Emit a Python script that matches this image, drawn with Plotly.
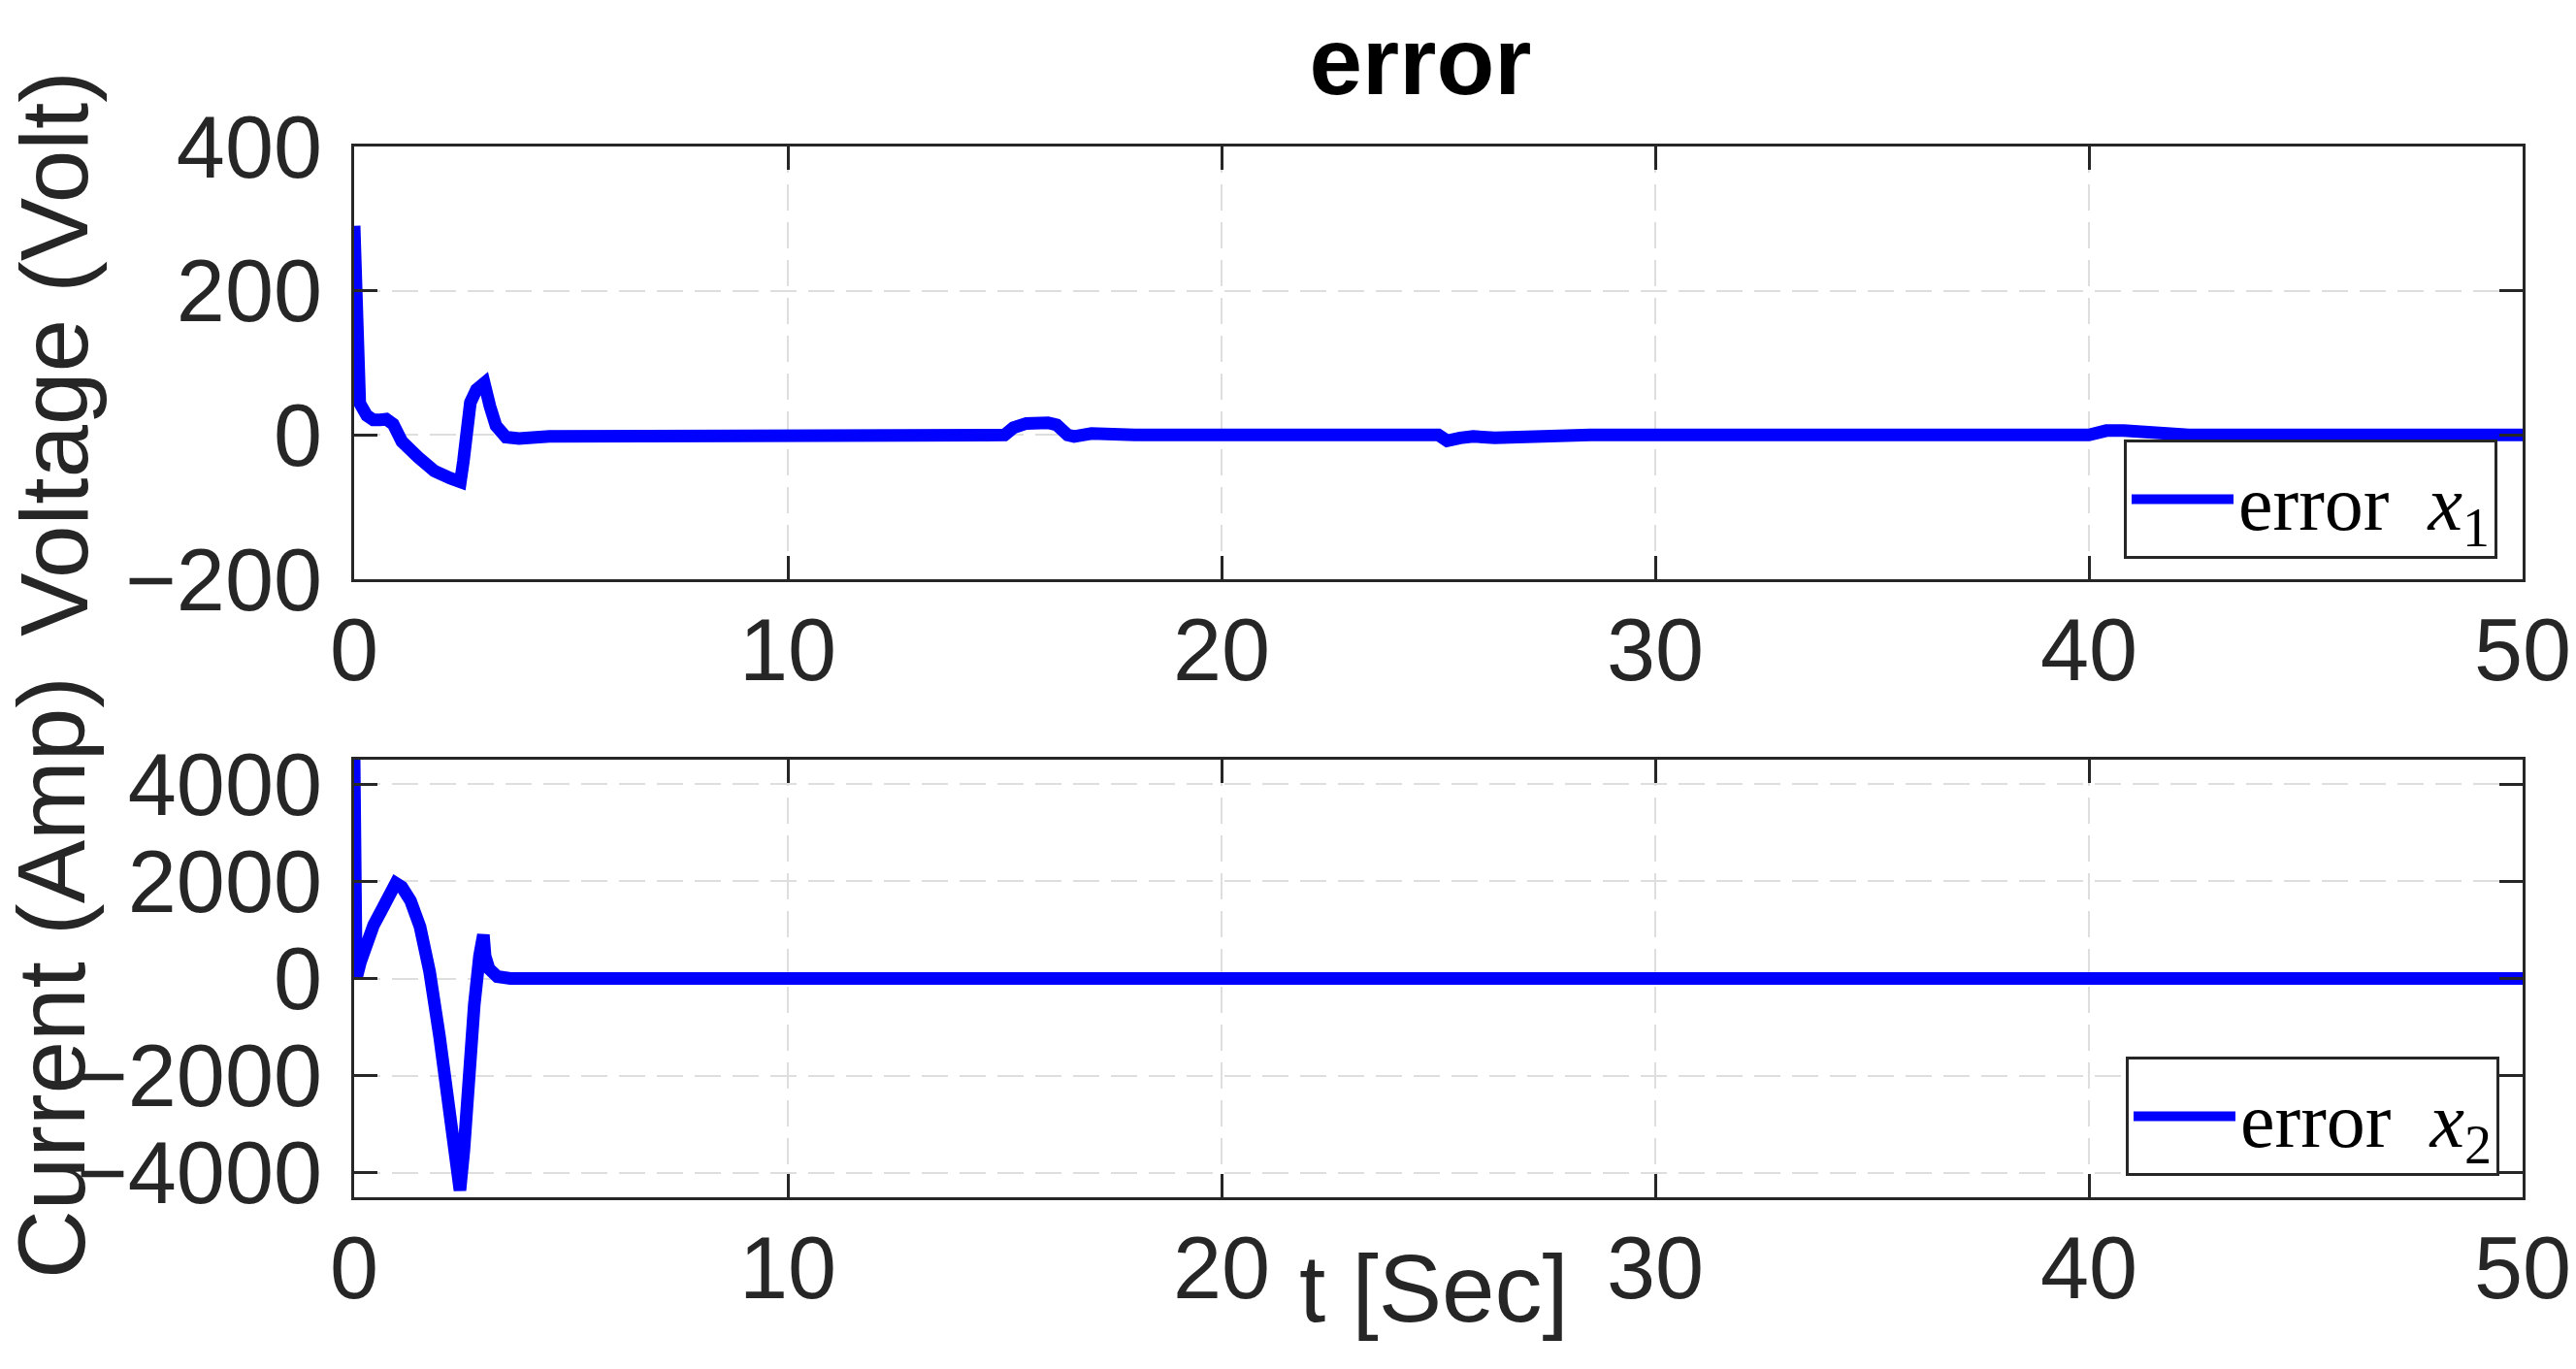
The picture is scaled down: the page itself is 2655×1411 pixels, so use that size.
import plotly.graph_objects as go

W, H = 2655, 1411

# --- datos ---------------------------------------------------------------
# error x1 (Volt)
T_X1 = [0.0, 0.01, 0.03, 0.07, 0.13, 0.29, 0.44, 0.6, 0.74, 0.9, 1.1, 1.48,
        1.85, 2.22, 2.45, 2.52, 2.57, 2.68, 2.82, 3.0, 3.13, 3.27, 3.5, 3.8,
        4.5, 5.0, 6.0, 8.0, 15.0, 15.2, 15.5, 16.0, 16.2, 16.45, 16.6, 17.0,
        17.5, 18.0, 25.0, 25.2, 25.5, 25.8, 26.3, 27.4, 28.5, 40.0, 40.4,
        40.8, 41.5, 42.3, 50.0]
E_X1 = [290, 250, 165, 77, 44, 27, 21, 21, 22, 15, -9, -31,
        -50, -60, -65, -36, 9, 45, 63, 72, 40, 13, -3, -5,
        -2, -2, -1, 0, 0, 10, 16, 17, 14, 0, -2, 2,
        1, 0, 0, -8, -4, -2, -4, -2, 0, 0, 6,
        6, 3, 0, 0]

# error x2 (Amp)
T_X2 = [0.0, 0.02, 0.05, 0.15, 0.31, 0.45, 0.63, 0.8, 0.96, 1.1, 1.3, 1.52,
        1.74, 1.97, 2.19, 2.37, 2.44, 2.53, 2.64, 2.77, 2.89, 2.98, 3.02,
        3.11, 3.3, 3.6, 50.0]
E_X2 = [4500, 2000, 0, 350, 800, 1100, 1400, 1750, 1960, 1880, 1600, 1060,
        140, -1200, -2740, -3860, -4360, -3540, -1860, -540, 460, 900, 460,
        200, 40, 0, 0]

X_TICKS = [0, 10, 20, 30, 40, 50]
Y1_TICKS = [-200, 0, 200, 400]
Y2_TICKS = [-4000, -2000, 0, 2000, 4000]

AX_COLOR = "#262626"
GRID = "#dedede"
BLUE = "#0000ff"
SANS = "Liberation Sans, Arial, sans-serif"
SERIF = "Liberation Serif, Times New Roman, serif"


def px_x(p):
    return p / W


def px_y(p):
    return 1 - p / H


def tick_labels(vals):
    return [str(v).replace("-", "\u2212") for v in vals]


def axis_style(ticks):
    """Estilo tipo MATLAB: caja, ticks hacia dentro, grid discontinuo."""
    return dict(
        tickmode="array", tickvals=ticks, ticktext=tick_labels(ticks),
        showline=True, linecolor=AX_COLOR, linewidth=3, mirror="ticks",
        ticks="inside", ticklen=24, tickwidth=3, tickcolor=AX_COLOR,
        showgrid=True, gridcolor=GRID, gridwidth=2, griddash="27px,12px",
        zeroline=False, automargin=False,
        tickfont=dict(family=SANS, size=90, color=AX_COLOR),
    )


fig = go.Figure()
fig.add_trace(go.Scatter(x=T_X1, y=E_X1, mode="lines",
                         name="error&nbsp;&nbsp;<i>x</i><sub>1</sub>",
                         line=dict(color=BLUE, width=13), xaxis="x", yaxis="y",
                         legend="legend", showlegend=True))
fig.add_trace(go.Scatter(x=T_X2, y=E_X2, mode="lines",
                         name="error&nbsp;&nbsp;<i>x</i><sub>2</sub>",
                         line=dict(color=BLUE, width=13), xaxis="x2", yaxis="y2",
                         legend="legend2", showlegend=True))

x_dom = [px_x(357), px_x(2592)]
legend_style = dict(xanchor="right", yanchor="bottom", bgcolor="white",
                    bordercolor=AX_COLOR, borderwidth=3, itemwidth=105,
                    font=dict(family=SERIF, size=80, color="black"))

fig.update_layout(
    width=W, height=H,
    margin=dict(l=0, r=0, t=0, b=0),
    plot_bgcolor="white", paper_bgcolor="white",
    showlegend=True,
    xaxis=dict(domain=x_dom, range=[0, 50], anchor="y", ticklabelstandoff=-7, **axis_style(X_TICKS)),
    yaxis=dict(domain=[px_y(589), px_y(143)], range=[-200, 400], anchor="x",
               ticklabelstandoff=12, **axis_style(Y1_TICKS)),
    xaxis2=dict(domain=x_dom, range=[0, 50], anchor="y2", ticklabelstandoff=-7, **axis_style(X_TICKS)),
    yaxis2=dict(domain=[px_y(1226), px_y(775)], range=[-4500, 4500], anchor="x2",
                ticklabelstandoff=12, **axis_style(Y2_TICKS)),
    legend=dict(x=px_x(2566), y=px_y(568), visible=True, **legend_style),
    legend2=dict(x=px_x(2568), y=px_y(1204), visible=True, **legend_style),
    title=dict(text="<b>error</b>", x=px_x(1456), xanchor="center", xref="paper",
               y=px_y(55), yanchor="middle", automargin=False,
               font=dict(family=SANS, size=98, color="black")),
)

# etiquetas de ejes (como en MATLAB, centradas en cada eje)
label_font = dict(family=SANS, size=98, color=AX_COLOR)
fig.add_annotation(text="Voltage (Volt)", textangle=-90, xref="paper", yref="paper",
                   x=px_x(48), y=px_y(357), xanchor="center", yanchor="middle",
                   showarrow=False, font=label_font)
fig.add_annotation(text="Current (Amp)", textangle=-90, xref="paper", yref="paper",
                   x=px_x(45), y=px_y(1000), xanchor="center", yanchor="middle",
                   showarrow=False, font=label_font)
fig.add_annotation(text="t [Sec]", xref="paper", yref="paper",
                   x=px_x(1470), y=px_y(1320), xanchor="center", yanchor="middle",
                   showarrow=False, font=label_font)

fig.write_html("out.html")
